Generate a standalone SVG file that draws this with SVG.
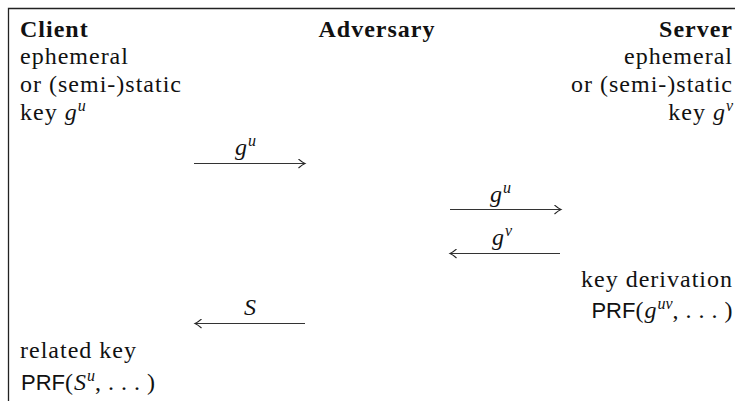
<svg xmlns="http://www.w3.org/2000/svg" width="735" height="401" viewBox="0 0 735 401">
<style>
text{font-family:"Liberation Serif","Times New Roman",serif;font-size:24px;letter-spacing:1px;fill:#111}
.b{font-weight:bold}
.m{font-style:italic;letter-spacing:0}
.sup{font-style:italic;font-size:16px;letter-spacing:0}
.sf{font-family:"Liberation Sans",Arial,sans-serif;font-size:22px;letter-spacing:0}
.e{text-anchor:end}
.arr{stroke:#333;stroke-width:1.2;fill:none}
</style>
<defs>
<marker id="ah" viewBox="-8 -5 10 10" refX="0" refY="0" markerWidth="10" markerHeight="10" markerUnits="userSpaceOnUse" orient="auto-start-reverse">
<path d="M -6.5 -4.5 Q -2.5 -1 0 0 Q -2.5 1 -6.5 4.5" fill="none" stroke="#222" stroke-width="1.1"/>
</marker>
</defs>
<rect width="735" height="401" fill="#fff"/>
<path d="M 8.5 401 V 8.5 H 735" fill="none" stroke="#222" stroke-width="1.3"/>
<g id="client">
<text x="20" y="37" class="b">Client</text>
<text x="20" y="64">ephemeral</text>
<text x="20" y="92">or (semi-)static</text>
<text x="20" y="120">key <tspan class="m">g</tspan><tspan class="sup" dx="1" dy="-9">u</tspan></text>
<text x="20" y="358">related key</text>
<text x="21" y="390"><tspan class="sf">PRF</tspan>(<tspan class="m">S</tspan><tspan class="sup" dx="1" dy="-9">u</tspan><tspan dy="9" letter-spacing="0.5">, . . . )</tspan></text>
</g>
<g id="adversary">
<text x="377" y="37" class="b" text-anchor="middle">Adversary</text>
</g>
<g id="server">
<text x="733" y="37" class="b e">Server</text>
<text x="733" y="64" class="e">ephemeral</text>
<text x="733" y="92" class="e">or (semi-)static</text>
<text x="733" y="120" class="e">key <tspan class="m">g</tspan><tspan class="sup" dx="1" dy="-9">v</tspan></text>
<text x="733" y="287" class="e">key derivation</text>
<text x="733" y="318" class="e"><tspan class="sf">PRF</tspan>(<tspan class="m">g</tspan><tspan class="sup" dx="1" dy="-9">uv</tspan><tspan dy="9" letter-spacing="0.5">, . . . )</tspan></text>
</g>
<g id="connectors">
<line class="arr" x1="194" y1="163.5" x2="305" y2="163.5" marker-end="url(#ah)"/>
<line class="arr" x1="450" y1="209.5" x2="561" y2="209.5" marker-end="url(#ah)"/>
<line class="arr" x1="450" y1="253.5" x2="560" y2="253.5" marker-start="url(#ah)"/>
<line class="arr" x1="195" y1="323.5" x2="305" y2="323.5" marker-start="url(#ah)"/>
</g>
<g id="labels">
<text x="235" y="155"><tspan class="m">g</tspan><tspan class="sup" dx="1" dy="-9">u</tspan></text>
<text x="490" y="202"><tspan class="m">g</tspan><tspan class="sup" dx="1" dy="-9">u</tspan></text>
<text x="492" y="245"><tspan class="m">g</tspan><tspan class="sup" dx="1" dy="-9">v</tspan></text>
<text x="244" y="315" class="m">S</text>
</g>
</svg>
